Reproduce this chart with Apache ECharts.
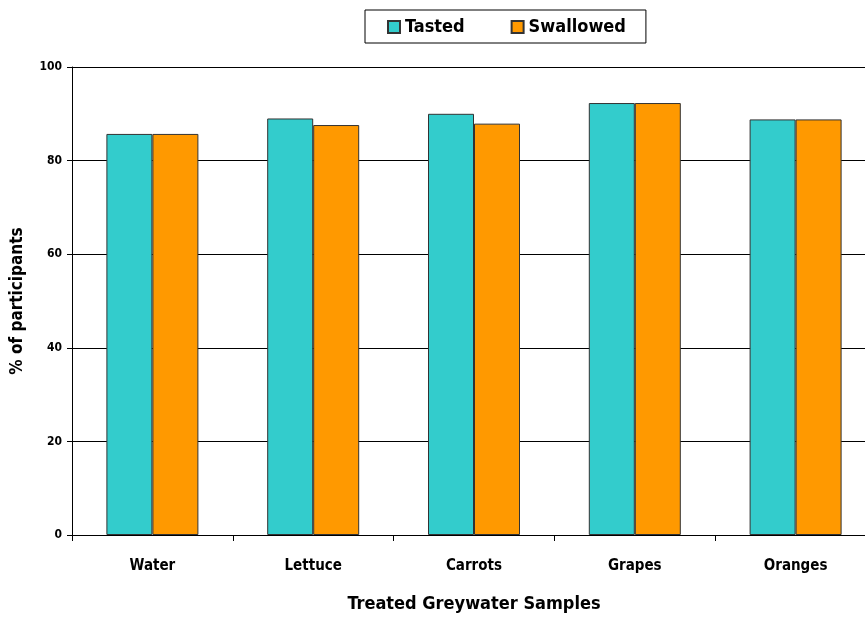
<!DOCTYPE html>
<html>
<head>
<meta charset="utf-8">
<title>Treated Greywater Samples</title>
<script src="https://cdn.jsdelivr.net/npm/echarts@6/dist/echarts.min.js"></script>
<style>
  html, body { margin: 0; padding: 0; background: #fff; }
  #wrap { position: relative; width: 865px; height: 618px; overflow: hidden; }
  /* plot area runs past the right edge in the original, so the canvas is a bit wider */
  #chart { position: absolute; left: 0; top: 0; width: 876px; height: 618px; }
</style>
</head>
<body>
<div id="wrap"><div id="chart"></div></div>
<script>
// data
var samples = ['Water', 'Lettuce', 'Carrots', 'Grapes', 'Oranges'];
var tasted = [85.7, 89.0, 90.0, 92.3, 88.8];
var swallowed = [85.7, 87.6, 87.9, 92.3, 88.8];

var font = '"DejaVu Sans Condensed", "Liberation Sans", sans-serif';
var chart = echarts.init(document.getElementById('chart'));

chart.setOption({
    animation: false,
    textStyle: { fontFamily: font },
    legend: {
        data: ['Tasted', 'Swallowed'],
        icon: 'rect',
        top: 10,
        left: 365,
        padding: [8, 20, 7, 22],
        itemGap: 46,
        itemWidth: 12,
        itemHeight: 12,
        borderColor: '#000',
        borderWidth: 1,
        textStyle: { fontFamily: font, fontWeight: 'bold', fontSize: 18, color: '#000' }
    },
    grid: { left: 72, right: 0, top: 67, bottom: 79, containLabel: false },
    xAxis: {
        type: 'category',
        data: samples,
        name: 'Treated Greywater Samples',
        nameLocation: 'middle',
        nameGap: 60,
        nameTextStyle: { fontFamily: font, fontWeight: 'bold', fontSize: 18, color: '#000' },
        axisLine: { lineStyle: { color: '#000', width: 1 } },
        axisTick: { show: true, length: 6, alignWithLabel: false, lineStyle: { color: '#000' } },
        axisLabel: { margin: 24, fontFamily: font, fontWeight: 'bold', fontSize: 15, color: '#000' }
    },
    yAxis: {
        type: 'value',
        min: 0,
        max: 100,
        interval: 20,
        name: '% of participants',
        nameLocation: 'middle',
        nameGap: 46,
        nameTextStyle: { fontFamily: font, fontWeight: 'bold', fontSize: 17, color: '#000' },
        axisLine: { show: true, lineStyle: { color: '#000', width: 1 } },
        axisTick: { show: true, length: 5, lineStyle: { color: '#000' } },
        axisLabel: { margin: 10, fontFamily: font, fontWeight: 'bold', fontSize: 12, color: '#000' },
        splitLine: { show: true, lineStyle: { color: '#000', width: 1 } }
    },
    series: [{
        name: 'Tasted',
        type: 'bar',
        data: tasted,
        barWidth: 46,
        barGap: '0%',
        itemStyle: { color: '#33CCCC', borderColor: '#333', borderWidth: 1 }
    }, {
        name: 'Swallowed',
        type: 'bar',
        data: swallowed,
        barWidth: 46,
        itemStyle: { color: '#FF9900', borderColor: '#333', borderWidth: 1 }
    }]
});
</script>
</body>
</html>
